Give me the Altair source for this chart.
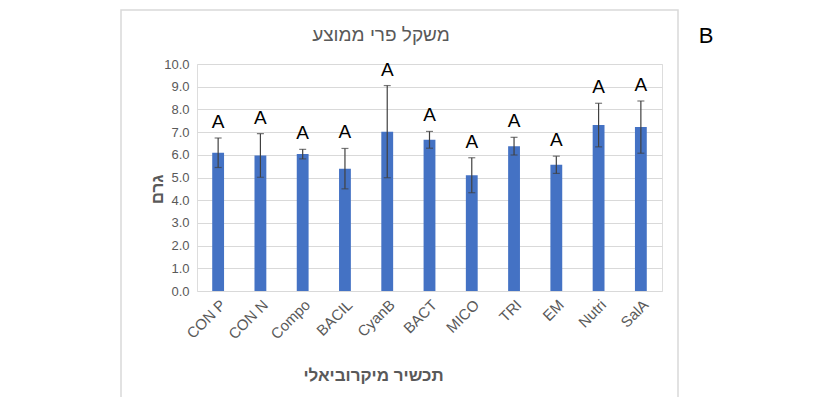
import altair as alt
import pandas as pd

categories = ["CON P", "CON N", "Compo", "BACIL", "CyanB", "BACT", "MICO", "TRI", "EM", "Nutri", "SalA"]
means = [6.09, 5.97, 6.03, 5.39, 7.02, 6.66, 5.10, 6.38, 5.56, 7.31, 7.22]
errs = [0.65, 0.96, 0.21, 0.89, 2.03, 0.37, 0.77, 0.39, 0.38, 0.96, 1.15]
letters = ["A"] * 11
y_ticks = [0, 1, 2, 3, 4, 5, 6, 7, 8, 9, 10]

df = pd.DataFrame({"cat": categories, "mean": means, "err": errs, "letter": letters})
df["lo"] = df["mean"] - df["err"]
df["hi"] = df["mean"] + df["err"]

FONT = "Liberation Sans, DejaVu Sans"
GREY = "#595959"

W, H = 465, 227

xscale = alt.Scale(paddingInner=0.72, paddingOuter=0.36)
yscale = alt.Scale(domain=[0, 10])

x_axis = alt.Axis(title="תכשיר מיקרוביאלי", labelAngle=-45, labelFontSize=15,
                  labelColor=GREY, labelFont=FONT, ticks=False, domain=False,
                  labelPadding=6, titleFontSize=17, titleFontWeight="bold",
                  titleColor=GREY, titleFont=FONT, titleX=176, titleY=84,
                  titleBaseline="middle", titleAlign="center", labelOverlap=False)
y_axis = alt.Axis(title="גרם", values=y_ticks, format=".1f",
                  labelFontSize=13, labelColor=GREY, labelFont=FONT, ticks=False,
                  domain=False, labelPadding=8, gridColor="#d9d9d9", labelOverlap=False,
                  titleFontSize=17, titleFontWeight="bold", titleColor=GREY,
                  titleFont=FONT, titleX=-40, titleY=125, titleAngle=-90,
                  titleBaseline="middle", titleAlign="center")

X = alt.X("cat:N", sort=categories, scale=xscale, axis=x_axis)

base = alt.Chart(df)

bars = base.mark_bar(color="#4472C4").encode(
    x=X, y=alt.Y("mean:Q", scale=yscale, axis=y_axis))

rules = base.mark_rule(color="#404040", strokeWidth=1.2).encode(
    x=X, y=alt.Y("lo:Q", scale=yscale, axis=y_axis), y2="hi:Q")
caps_hi = base.mark_tick(color="#404040", size=7, thickness=1.2, orient="horizontal").encode(
    x=X, y=alt.Y("hi:Q", scale=yscale, axis=y_axis))
caps_lo = base.mark_tick(color="#404040", size=7, thickness=1.2, orient="horizontal").encode(
    x=X, y=alt.Y("lo:Q", scale=yscale, axis=y_axis))

labels = base.mark_text(fontSize=19, font=FONT, color="black", baseline="alphabetic", dy=-10).encode(
    x=X, y=alt.Y("hi:Q", scale=yscale, axis=y_axis), text="letter:N")

frame = alt.Chart(pd.DataFrame({"k": [0]})).mark_rect(fill=None, stroke="#d9d9d9", strokeWidth=1.5).encode(
    x=alt.value(-76), x2=alt.value(481), y=alt.value(-54), y2=alt.value(345))

panel = alt.Chart(pd.DataFrame({"t": ["B"]})).mark_text(fontSize=22, font=FONT, color="black",
                                                        baseline="middle", align="center").encode(
    x=alt.value(509), y=alt.value(-28), text="t:N")

title = alt.Chart(pd.DataFrame({"t": ["משקל פרי ממוצע"]})).mark_text(
    fontSize=19, font=FONT, color=GREY, baseline="middle", align="center").encode(
    x=alt.value(184), y=alt.value(-29), text="t:N")

chart = alt.layer(frame, bars, rules, caps_hi, caps_lo, labels, panel, title).properties(
    width=W, height=H,
    autosize=alt.AutoSizeParams(type="none"),
    padding={"left": 189, "top": 56, "right": 147, "bottom": 106},
).configure_view(stroke=None).configure(background="white")

chart.save("out.html", embed_options={"renderer": "svg", "actions": False})
